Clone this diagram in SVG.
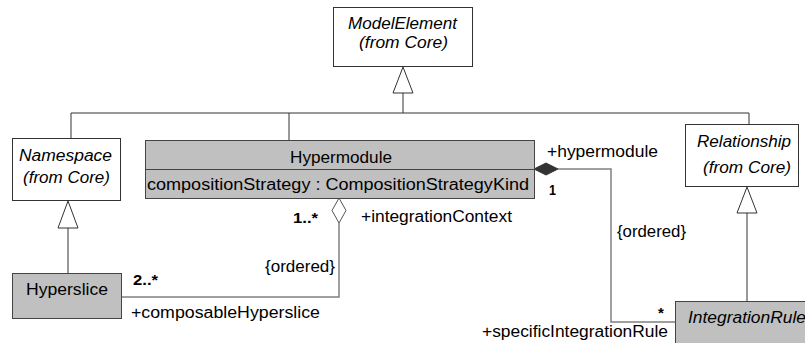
<svg xmlns="http://www.w3.org/2000/svg" width="805" height="343" viewBox="0 0 805 343">
<style>
text{font-family:"Liberation Sans",Arial,sans-serif;font-size:16px;fill:#000}
.it{font-style:italic}
.m{font-weight:bold;font-size:15px}
.box{fill:#fff;stroke:#333;stroke-width:1}
.gbox{fill:#c0c0c0;stroke:#444;stroke-width:1}
.gen{fill:none;stroke:#333;stroke-width:1}
.tri{fill:#fff;stroke:#333;stroke-width:1}
.assoc{fill:none;stroke:#808080;stroke-width:1.5}
</style>
<rect width="805" height="343" fill="#fff"/>
<g id="connectors">
<polyline class="gen" points="403,93 403,113"/>
<polyline class="gen" points="71,138 71,113 749,113 749,124"/>
<polyline class="gen" points="289,113 289,140"/>
<polygon class="tri" points="403,67 413,93 393,93"/>
<polyline class="gen" points="68,228 68,273"/>
<polygon class="tri" points="68,201 78,228 58,228"/>
<polyline class="gen" points="747,213 747,301"/>
<polygon class="tri" points="747,187 757,213 737,213"/>
<polyline class="assoc" points="122,297 339,297 339,223"/>
<polygon points="339,198 346,210.5 339,223 332,210.5" fill="#fff" stroke="#555" stroke-width="1"/>
<polyline class="assoc" points="558,169 611,169 611,322 675,322"/>
<polygon points="534,169 546,163 558,169 546,175" fill="#333" stroke="#333" stroke-width="1"/>
<text x="547" y="157" textLength="111" lengthAdjust="spacingAndGlyphs">+hypermodule</text>
<text class="m" x="549" y="195" textLength="7" lengthAdjust="spacingAndGlyphs">1</text>
<text x="617" y="237" textLength="69" lengthAdjust="spacingAndGlyphs">{ordered}</text>
<text class="m" x="658" y="318">*</text>
<text x="482" y="337" textLength="186" lengthAdjust="spacingAndGlyphs">+specificIntegrationRule</text>
<text class="m" x="293" y="223" textLength="25" lengthAdjust="spacingAndGlyphs">1..*</text>
<text x="361" y="222" textLength="151" lengthAdjust="spacingAndGlyphs">+integrationContext</text>
<text x="265" y="272" textLength="70" lengthAdjust="spacingAndGlyphs">{ordered}</text>
<text class="m" x="133" y="285" textLength="25" lengthAdjust="spacingAndGlyphs">2..*</text>
<text x="131" y="318" textLength="189" lengthAdjust="spacingAndGlyphs">+composableHyperslice</text>
</g>
<g id="ModelElement">
<rect class="box" x="333.5" y="7.5" width="139" height="59"/>
<text class="it" x="348" y="29" textLength="109" lengthAdjust="spacingAndGlyphs">ModelElement</text>
<text class="it" x="359" y="48" textLength="89" lengthAdjust="spacingAndGlyphs">(from Core)</text>
</g>
<g id="Namespace">
<rect class="box" x="12.5" y="138.5" width="108" height="62"/>
<text class="it" x="19" y="161" textLength="93" lengthAdjust="spacingAndGlyphs">Namespace</text>
<text class="it" x="23" y="183" textLength="87" lengthAdjust="spacingAndGlyphs">(from Core)</text>
</g>
<g id="Hypermodule">
<rect class="gbox" x="145.5" y="140.5" width="389" height="58"/>
<line x1="145.5" y1="169.5" x2="534.5" y2="169.5" stroke="#444" stroke-width="1"/>
<text x="290" y="163" textLength="102" lengthAdjust="spacingAndGlyphs">Hypermodule</text>
<text x="147" y="190" textLength="382" lengthAdjust="spacingAndGlyphs">compositionStrategy : CompositionStrategyKind</text>
</g>
<g id="Relationship">
<rect class="box" x="685.5" y="124.5" width="113" height="62"/>
<text class="it" x="697" y="147" textLength="94" lengthAdjust="spacingAndGlyphs">Relationship</text>
<text class="it" x="703" y="173" textLength="88" lengthAdjust="spacingAndGlyphs">(from Core)</text>
</g>
<g id="Hyperslice">
<rect class="gbox" x="12.5" y="273.5" width="109" height="45"/>
<text x="26" y="295" textLength="82" lengthAdjust="spacingAndGlyphs">Hyperslice</text>
</g>
<g id="IntegrationRule">
<rect class="gbox" x="675.5" y="301.5" width="150" height="60"/>
<text class="it" x="688" y="323" textLength="118" lengthAdjust="spacingAndGlyphs">IntegrationRule</text>
</g>
</svg>
